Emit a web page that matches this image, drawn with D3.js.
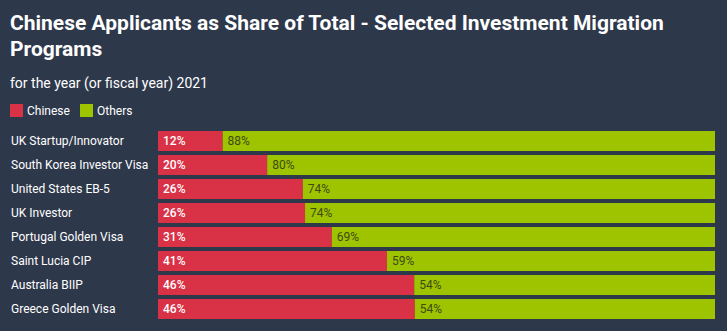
<!DOCTYPE html>
<html>
<head>
<meta charset="utf-8">
<script src="https://cdn.jsdelivr.net/npm/d3@7"></script>
<style>
  html, body { margin: 0; padding: 0; background: #2e384b; }
  svg { display: block; }
</style>
</head>
<body>
<svg id="chart" width="727" height="331"></svg>
<script>
// Programs, top to bottom
const programs = [
  "UK Startup/Innovator",
  "South Korea Investor Visa",
  "United States EB-5",
  "UK Investor",
  "Portugal Golden Visa",
  "Saint Lucia CIP",
  "Australia BIIP",
  "Greece Golden Visa"
];
// Share of applicants (%), 2021
const chinese = [11.6, 19.6, 26.0, 26.4, 31.2, 41.1, 46.0, 46.1];
const others  = [88.4, 80.4, 74.0, 73.6, 68.8, 58.9, 54.0, 53.9];
const seriesNames = ["Chinese", "Others"];
const seriesColors = ["#d93146", "#9ec400"];

const W = 727, H = 331;
const margin = { left: 158, right: 12, top: 131, bottom: 12 };
const svg = d3.select("#chart");

svg.append("rect").attr("width", W).attr("height", H).attr("fill", "#2e384b");

// Title and subtitle
const title = svg.append("text")
  .attr("x", 10).attr("y", 30)
  .attr("fill", "#ffffff")
  .style("font-family", "Roboto, sans-serif")
  .style("font-weight", "700")
  .style("font-size", "21px");
title.append("tspan").attr("x", 10).attr("dy", 0)
  .text("Chinese Applicants as Share of Total - Selected Investment Migration");
title.append("tspan").attr("x", 10).attr("dy", 26).text("Programs");

svg.append("text")
  .attr("x", 10).attr("y", 88)
  .attr("fill", "#ffffff")
  .style("font-family", "Roboto, sans-serif")
  .style("font-size", "14px")
  .text("for the year (or fiscal year) 2021");

// Legend
const legend = svg.append("g").attr("transform", "translate(10,104)");
const legendX = [0, 70];
seriesNames.forEach((name, i) => {
  const g = legend.append("g").attr("transform", `translate(${legendX[i]},0)`);
  g.append("rect").attr("width", 13).attr("height", 13).attr("fill", seriesColors[i]);
  g.append("text")
    .attr("x", 17).attr("y", 11)
    .attr("fill", "#ffffff")
    .style("font-family", "Roboto, sans-serif")
    .style("font-size", "12px")
    .text(name);
});

// Scales
const x = d3.scaleLinear().domain([0, 100]).range([margin.left, 715]);
const y = d3.scaleBand().domain(programs)
  .range([margin.top - 2, margin.top - 2 + programs.length * 24])
  .paddingInner(4 / 24).paddingOuter(2 / 24);

// Category axis
const yAxis = d3.axisLeft(y).tickSize(0).tickPadding(0);
const axisG = svg.append("g")
  .attr("transform", `translate(11,0)`)
  .call(yAxis);
axisG.select(".domain").remove();
axisG.selectAll("text")
  .attr("text-anchor", "start")
  .attr("fill", "#ffffff")
  .style("font-family", "Roboto, sans-serif")
  .style("font-size", "12px");

// Stacked bars
const rows = programs.map((p, i) => ({ program: p, Chinese: chinese[i], Others: others[i] }));
const stack = d3.stack().keys(seriesNames)(rows);
const fmt = v => d3.format(".0f")(v) + "%";

stack.forEach((layer, li) => {
  const g = svg.append("g");
  g.selectAll("rect")
    .data(layer)
    .join("rect")
    .attr("x", d => x(d[0]))
    .attr("y", d => y(d.data.program))
    .attr("width", d => x(d[1]) - x(d[0]))
    .attr("height", y.bandwidth())
    .attr("fill", seriesColors[li]);
  g.selectAll("text")
    .data(layer)
    .join("text")
    .attr("x", d => x(d[0]) + 5)
    .attr("y", d => y(d.data.program) + y.bandwidth() / 2)
    .attr("dy", "0.35em")
    .attr("fill", li === 0 ? "#ffffff" : "#3f4a14")
    .style("font-family", "Roboto, sans-serif")
    .style("font-size", "12px")
    .style("font-weight", li === 0 ? "500" : "400")
    .text(d => fmt(d.data[layer.key]));
});
</script>
</body>
</html>
